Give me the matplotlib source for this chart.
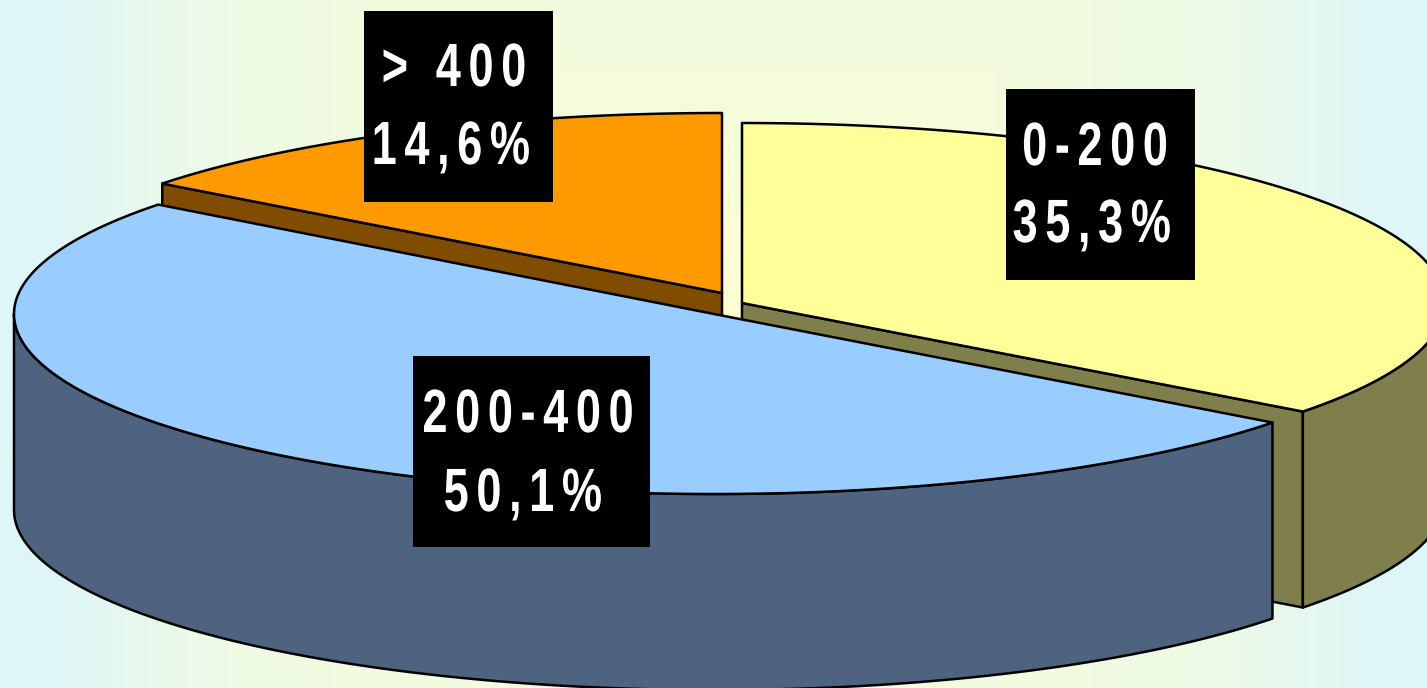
import numpy as np
import matplotlib
matplotlib.use("Agg")
import matplotlib.pyplot as plt
from matplotlib.patches import Polygon, Rectangle
from matplotlib.patheffects import AbstractPathEffect
from matplotlib.transforms import Affine2D

# slices, clockwise from 12 o'clock
ranges = ["0-200", "200-400", "> 400"]
percents = [35.3, 50.1, 14.6]
percent_labels = ["35,3%", "50,1%", "14,6%"]
top_colors = ["#FFFF99", "#99CCFF", "#FF9900"]
side_colors = ["#7F7F4C", "#4D6380", "#804D00"]

W, H = 1427, 688
DEPTH = 196
# ellipse centre and radii of each slice, pixels
centers = [(742, 303), (714, 314), (722, 293)]
radii = [(703, 180), (700, 180), (705, 180)]
# black label boxes: x0, y0, x1, y1
boxes = [(1006, 89, 1195, 280), (413, 356, 650, 547), (364, 11, 553, 202)]
# text anchors: (x, baseline y) for first and second line
line1 = [(1095, 165), (528, 432), (454, 86)]
line2 = [(1092, 242), (523, 511), (451, 164)]


class Narrow(AbstractPathEffect):
    # squeezes a text sideways around its anchor, no narrow font is installed
    def __init__(self, x, scale):
        super().__init__()
        self.x = x
        self.scale = scale

    def draw_path(self, renderer, gc, tpath, affine, rgbFace=None):
        squeeze = Affine2D().translate(-self.x, 0).scale(self.scale, 1).translate(self.x, 0)
        renderer.draw_path(gc, tpath, affine + squeeze, rgbFace)


def spaced(s):
    return "\u200a\u200a".join(s)


def arc(i, a0, a1):
    # a0, a1 in degrees, drawn through the tilted ellipse
    t = np.radians(np.linspace(a0, a1, 200))
    cx, cy = centers[i]
    rx, ry = radii[i]
    return np.column_stack([cx + rx * np.cos(t), cy - ry * np.sin(t)])


fig = plt.figure(figsize=(W / 100, H / 100), dpi=100)
ax = fig.add_axes([0, 0, 1, 1])
ax.set_xlim(0, W)
ax.set_ylim(H, 0)
ax.axis("off")

# background, pale yellow in the middle going to pale cyan at the sides
xx, yy = np.meshgrid(np.linspace(-1, 1, 720), np.linspace(-1, 1, 360))
d = np.maximum(np.abs(xx), 0.5 * np.abs(yy))
t = np.interp(d, [0, 0.5, 0.68, 0.8, 0.93], [0, 0.42, 0.55, 0.76, 1])
inner = np.array([255, 255, 208]) / 255
outer = np.array([223, 246, 247]) / 255
bg = inner + (outer - inner) * t[..., None]
ax.imshow(bg, extent=(0, W, H, 0), aspect="auto", zorder=0, interpolation="bilinear")

# start and end angle of each slice
ends = 90 - np.cumsum(percents) * 3.6
starts = np.r_[90, ends[:-1]]


def face(points, color, z):
    ax.add_patch(Polygon(points, closed=True, facecolor=color, edgecolor="black",
                         linewidth=1.8, joinstyle="round", zorder=z))


def cut_face(i, angle, z):
    a = arc(i, angle, angle)[0]
    c = np.array(centers[i], dtype=float)
    face([c, a, a + [0, DEPTH], c + [0, DEPTH]], side_colors[i], z)


def outer_wall(i, a0, a1, z):
    edge = arc(i, a0, a1)
    face(np.vstack([edge, edge[::-1] + [0, DEPTH]]), side_colors[i], z)


def top(i, z):
    edge = arc(i, starts[i], ends[i])
    face(np.vstack([centers[i], edge]), top_colors[i], z)


# orange at the back
cut_face(2, starts[2], 1)
top(2, 2)
# yellow to the right
cut_face(0, ends[0], 3)
outer_wall(0, ends[0], 0, 4)
top(0, 5)
# blue in front of both
outer_wall(1, starts[1], -180, 6)
top(1, 7)

fonts = ["Liberation Sans", "DejaVu Sans"]
for i in range(3):
    x0, y0, x1, y1 = boxes[i]
    ax.add_patch(Rectangle((x0, y0), x1 - x0, y1 - y0, facecolor="black",
                           edgecolor="none", zorder=8))
    for pos, s in ((line1[i], ranges[i]), (line2[i], percent_labels[i])):
        txt = ax.text(pos[0], pos[1], spaced(s), color="white", fontsize=44, weight="bold",
                      family=fonts, ha="center", va="baseline", zorder=9)
        txt.set_path_effects([Narrow(pos[0], 0.74)])

fig.savefig("out.png", dpi=100)
